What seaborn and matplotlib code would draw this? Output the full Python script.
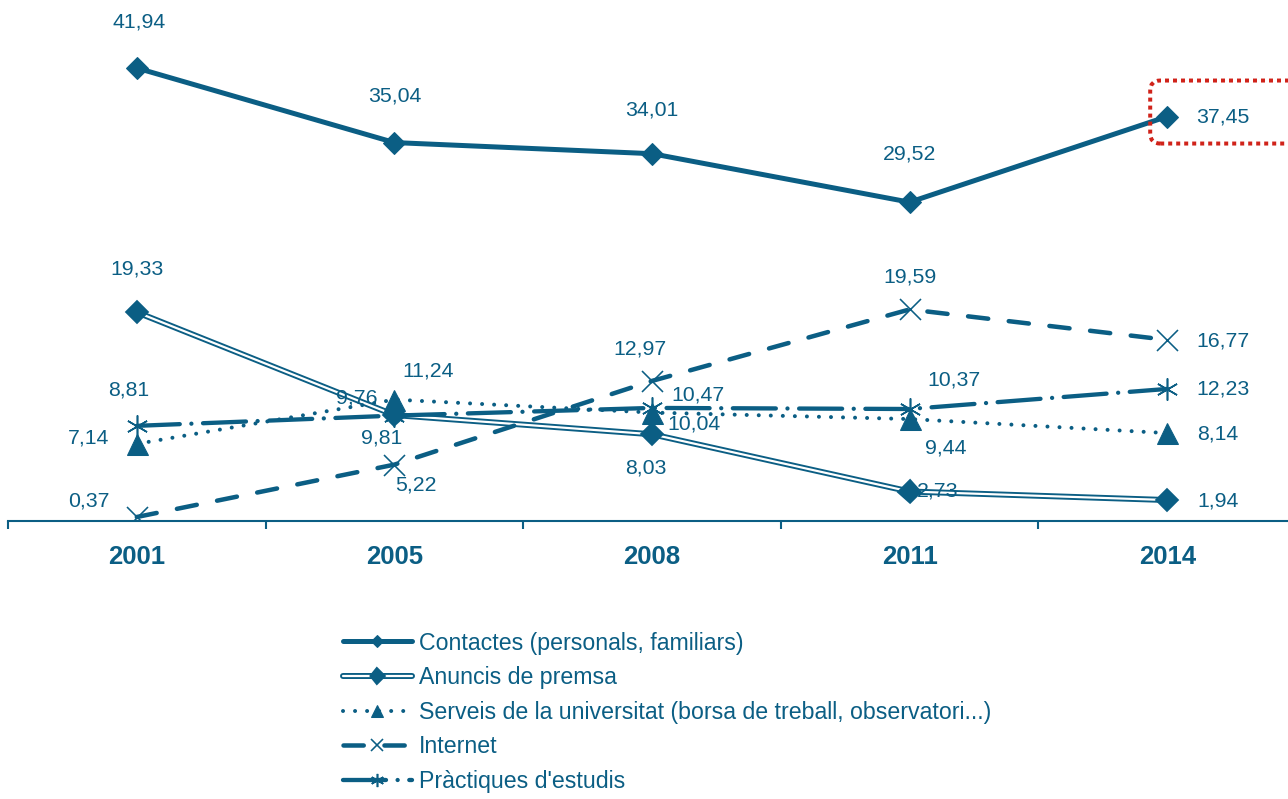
import numpy as np
import pandas as pd
import matplotlib
matplotlib.use("Agg")
import matplotlib.pyplot as plt
import matplotlib.patheffects as pe
from matplotlib.patches import FancyBboxPatch
import seaborn as sns

# dades
anys = ["2001", "2005", "2008", "2011", "2014"]
contactes = [41.94, 35.04, 34.01, 29.52, 37.45]
anuncis = [19.33, 9.81, 8.03, 2.73, 1.94]
serveis = [7.14, 11.24, 10.04, 9.44, 8.14]
internet = [0.37, 5.22, 12.97, 19.59, 16.77]
practiques = [8.81, 9.76, 10.47, 10.37, 12.23]
noms = ["Contactes (personals, familiars)", "Anuncis de premsa",
        "Serveis de la universitat (borsa de treball, observatori...)",
        "Internet", "Pràctiques d'estudis"]

blau = "#0b5e84"
vermell = "#d0231a"

sns.set_style("white")
plt.rcParams['font.family'] = ['Liberation Sans', 'DejaVu Sans']

fig = plt.figure(figsize=(12.88, 7.99), dpi=100)
ax = fig.add_axes([8 / 1288, 278 / 799, 1288 / 1288, 48 * 10.8 / 799])

x = np.arange(len(anys))
pt = 72 / 100  # punts per pixel

# estil de cada serie
estils = [
    dict(lw=5 * pt, ls="-", marker="D", ms=15 * pt, mfc=blau, mec=blau),
    dict(lw=2.2 * pt, ls="-", color="white", marker="D", ms=11.5 * pt, mfc=blau, mec=blau,
         path_effects=[pe.Stroke(linewidth=6 * pt, foreground=blau), pe.Normal()]),
    dict(lw=4 * pt, ls=(0, (0.01, 3.0)), marker="^", ms=21 * pt, mfc=blau, mec=blau),
    dict(lw=4.5 * pt, ls=(0, (4.5, 4.6)), marker="x", ms=21 * pt, mfc=blau, mec=blau, mew=1.6 * pt),
    dict(lw=4.3 * pt, ls=(0, (10.0, 2.7, 0.01, 2.7)), marker=(6, 2, 0), ms=22 * pt,
         mfc=blau, mec=blau, mew=1.6 * pt),
]
series = [contactes, anuncis, serveis, internet, practiques]

for vals, nom, st in zip(series, noms, estils):
    st = dict(st)
    color = st.pop("color", blau)
    sns.lineplot(x=x, y=vals, ax=ax, label=nom, color=color, sort=False, errorbar=None,
                 dash_capstyle="round", solid_capstyle="round", **st)

# etiquetes de dades (desplaçament en pixels)
despl = [
    [(2, 46), (0, 47), (0, 44), (0, 48), (56, 0)],
    [(0, 43), (-13, -23), (-6, -34), (28, 1), (51, -1)],
    [(-48, 6), (34, 29), (42, -11), (36, -29), (51, -1)],
    [(-48, 16), (22, -20), (-12, 32), (0, 32), (56, -1)],
    [(-8, 36), (-38, 18), (46, 13), (44, 29), (56, 0)],
]
for vals, offs in zip(series, despl):
    for xi, v, (dx, dy) in zip(x, vals, offs):
        ax.annotate(f"{v:.2f}".replace(".", ","), (xi, v), xytext=(dx, dy),
                    textcoords="offset pixels", ha="center", va="center",
                    fontsize=15.3, color=blau)

ax.set_xlim(-0.5, len(anys) - 0.5)
ax.set_ylim(0, 48)
for s in ["left", "right", "top"]:
    ax.spines[s].set_visible(False)
ax.spines["bottom"].set_color(blau)
ax.spines["bottom"].set_linewidth(1.5)
ax.set_yticks([])
ax.set_xticks(x)
ax.set_xticklabels(anys, fontsize=18.5, fontweight="bold", color=blau)
ax.set_xticks(np.arange(-0.5, len(anys), 1), minor=True)
ax.tick_params(axis="x", which="major", length=0, pad=17)
ax.tick_params(axis="x", which="minor", bottom=True, length=6, width=1.5, color=blau,
               direction="out")
ax.set_xlabel("")

# requadre vermell sobre l'ultim valor
fig.canvas.draw()
px, py = ax.transData.transform((x[-1], contactes[-1]))
caixa = FancyBboxPatch((px - 17, py - 27), 170, 63, boxstyle="round,pad=0,rounding_size=10",
                       transform=None, fill=False, ec=vermell, lw=4 * pt,
                       ls=(0, (1, 1)), clip_on=False)
fig.add_artist(caixa)

ax.legend(loc="upper left", bbox_to_anchor=(331 / 1288, 179 / 799), bbox_transform=fig.transFigure,
          frameon=False, fontsize=16.7, labelcolor=blau, handlelength=3.0, handletextpad=0.3,
          labelspacing=0.5, borderpad=0, markerscale=0.6)

fig.savefig("out.png", dpi=100)
